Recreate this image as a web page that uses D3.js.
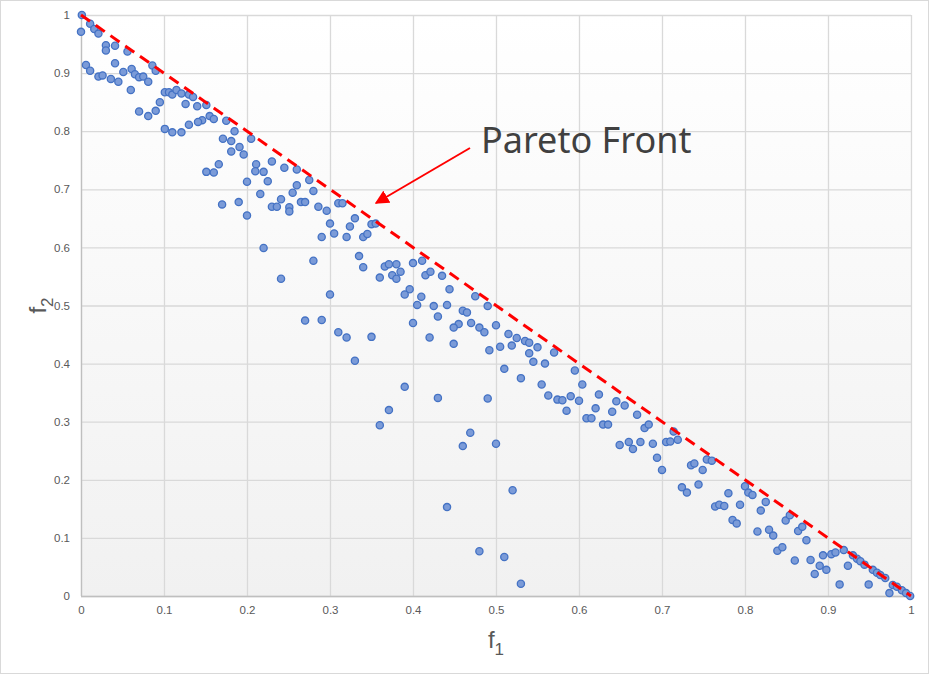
<!DOCTYPE html>
<html><head><meta charset="utf-8">
<script src="https://cdn.jsdelivr.net/npm/d3@7"></script>
<style>body{margin:0;background:#fff;}svg{display:block;}</style>
</head><body>
<svg id="chart" width="929" height="674"></svg>
<script>
// ---- data ----
const f1 = [0.001,0.0,0.011,0.016,0.021,0.030,0.030,0.041,0.056,0.041,0.006,0.011,0.021,0.026,0.036,0.045,0.051,0.061,0.065,0.070,0.075,0.081,0.060,0.086,0.090,0.070,0.081,0.090,0.095,0.101,0.106,0.110,0.115,0.121,0.126,0.130,0.135,0.140,0.151,0.155,0.160,0.146,0.141,0.130,0.121,0.110,0.101,0.175,0.185,0.171,0.181,0.181,0.191,0.196,0.205,0.166,0.211,
0.151,0.160,0.210,0.220,0.230,0.245,0.260,0.225,0.200,0.275,0.260,0.255,0.280,0.216,0.241,0.230,0.236,0.251,0.251,0.265,0.270,0.286,0.296,0.300,0.305,0.290,0.310,0.315,0.320,0.324,0.170,0.190,0.200,0.220,0.280,
0.330,0.350,0.355,0.340,0.345,0.335,0.340,0.241,0.300,0.360,0.366,0.371,0.380,0.375,0.380,0.385,0.400,0.411,0.415,0.421,0.435,0.444,0.396,0.390,0.410,0.405,0.425,0.441,0.430,0.400,0.270,0.290,0.310,0.320,0.350,0.420,
0.475,0.490,0.460,0.465,0.470,0.455,0.449,0.480,0.486,0.500,0.449,0.330,0.492,0.505,0.515,0.525,0.519,0.535,0.540,0.550,0.540,0.545,0.559,0.510,0.530,0.555,0.563,0.390,0.430,0.490,0.371,
0.570,0.574,0.580,0.585,0.590,0.595,0.604,0.600,0.624,0.620,0.609,0.615,0.645,0.655,0.640,0.629,0.635,0.670,0.679,0.684,0.469,0.460,0.500,0.649,0.660,0.665,0.674,
0.689,0.694,0.700,0.705,0.710,0.714,0.719,0.724,0.730,0.735,0.739,0.744,0.749,0.754,0.760,0.764,0.769,0.775,0.780,0.785,0.790,0.794,0.800,0.804,0.809,0.825,0.819,0.815,0.829,
0.834,0.839,0.845,0.849,0.854,0.860,0.864,0.869,0.874,0.879,0.884,0.890,0.894,0.898,0.904,0.909,0.914,0.919,0.924,0.930,0.935,0.939,0.944,0.949,0.954,0.959,0.963,0.969,0.974,0.978,0.983,0.989,0.994,0.999,
0.360,0.520,0.441,0.480,0.510,0.530];
const f2 = [1.0,0.971,0.985,0.976,0.968,0.948,0.939,0.947,0.937,0.917,0.914,0.904,0.894,0.896,0.890,0.885,0.902,0.907,0.898,0.893,0.894,0.885,0.871,0.913,0.904,0.834,0.826,0.835,0.850,0.867,0.867,0.863,0.871,0.865,0.847,0.863,0.859,0.843,0.845,0.826,0.821,0.819,0.816,0.811,0.798,0.798,0.804,0.818,0.800,0.787,0.783,0.765,0.773,0.760,0.787,0.743,0.743,
0.730,0.729,0.731,0.730,0.748,0.737,0.734,0.714,0.713,0.716,0.707,0.694,0.697,0.692,0.683,0.670,0.670,0.669,0.662,0.678,0.678,0.670,0.663,0.641,0.624,0.618,0.676,0.676,0.618,0.636,0.674,0.678,0.655,0.599,0.577,
0.650,0.640,0.641,0.618,0.623,0.585,0.566,0.546,0.519,0.548,0.567,0.571,0.571,0.552,0.546,0.558,0.573,0.577,0.552,0.558,0.551,0.528,0.528,0.519,0.515,0.501,0.499,0.501,0.481,0.470,0.474,0.475,0.454,0.445,0.446,0.445,
0.516,0.499,0.491,0.488,0.470,0.468,0.462,0.462,0.454,0.466,0.434,0.405,0.423,0.429,0.451,0.444,0.431,0.439,0.436,0.428,0.418,0.403,0.400,0.391,0.375,0.364,0.345,0.360,0.341,0.340,0.320,
0.419,0.338,0.337,0.319,0.344,0.388,0.364,0.336,0.347,0.323,0.306,0.306,0.335,0.328,0.317,0.295,0.295,0.312,0.289,0.295,0.281,0.258,0.262,0.260,0.265,0.253,0.265,
0.262,0.238,0.217,0.265,0.266,0.283,0.269,0.187,0.178,0.225,0.228,0.192,0.217,0.235,0.233,0.154,0.157,0.155,0.177,0.131,0.125,0.157,0.189,0.178,0.174,0.162,0.147,0.111,0.114,
0.104,0.078,0.084,0.130,0.139,0.061,0.112,0.119,0.096,0.062,0.038,0.052,0.070,0.045,0.072,0.075,0.020,0.079,0.052,0.070,0.064,0.060,0.054,0.020,0.045,0.040,0.036,0.031,0.005,0.019,0.016,0.010,0.005,0.0,
0.294,0.182,0.153,0.077,0.067,0.021];
const frontF1 = [0, 1];
const frontF2 = [1, 0];
const xTicks = [0,0.1,0.2,0.3,0.4,0.5,0.6,0.7,0.8,0.9,1];
const yTicks = [0,0.1,0.2,0.3,0.4,0.5,0.6,0.7,0.8,0.9,1];
const annotationText = "Pareto Front";

// ---- layout ----
const svg = d3.select("#chart");
const W = 929, H = 674;
const L = 81, R = 911, T = 15, B = 596;
const x = d3.scaleLinear().domain([0,1]).range([L,R]);
const y = d3.scaleLinear().domain([0,1]).range([B,T]);

const defs = svg.append("defs");
const grad = defs.append("linearGradient").attr("id","bg").attr("x1",0).attr("y1",0).attr("x2",0).attr("y2",1);
grad.append("stop").attr("offset","0%").attr("stop-color","#ffffff");
grad.append("stop").attr("offset","100%").attr("stop-color","#f1f1f1");
defs.append("marker").attr("id","arrow").attr("viewBox","0 0 10 10").attr("refX",9).attr("refY",5)
  .attr("markerWidth",7).attr("markerHeight",7).attr("markerUnits","strokeWidth").attr("orient","auto")
  .append("path").attr("d","M0,0 L10,5 L0,10 z").attr("fill","#ff0000");

// chart border
svg.append("rect").attr("x",0.5).attr("y",0.5).attr("width",W-1).attr("height",H-1)
  .attr("fill","#fff").attr("stroke","#d9d9d9");
// plot background
svg.append("rect").attr("x",L).attr("y",T).attr("width",R-L).attr("height",B-T).attr("fill","url(#bg)");

// gridlines
svg.append("g").selectAll("line").data(xTicks).join("line")
  .attr("x1",d=>x(d)+0.5).attr("x2",d=>x(d)+0.5).attr("y1",T).attr("y2",B)
  .attr("stroke","#d9d9d9").attr("stroke-width",1.3);
svg.append("g").selectAll("line").data(yTicks).join("line")
  .attr("x1",L).attr("x2",R).attr("y1",d=>y(d)+0.5).attr("y2",d=>y(d)+0.5)
  .attr("stroke","#d9d9d9").attr("stroke-width",1.3);

// axes
const xAxis = d3.axisBottom(x).tickValues(xTicks).tickSize(0).tickPadding(10).tickFormat(d3.format("~g"));
const yAxis = d3.axisLeft(y).tickValues(yTicks).tickSize(0).tickPadding(11).tickFormat(d3.format("~g"));
const gx = svg.append("g").attr("transform",`translate(0,${B})`).call(xAxis);
const gy = svg.append("g").attr("transform",`translate(${L},0)`).call(yAxis);
[gx,gy].forEach(g=>{
  g.select(".domain").remove();
  g.selectAll("text").attr("fill","#595959").attr("font-family","Liberation Sans, Arial, sans-serif").attr("font-size",11.5);
});
svg.append("line").attr("x1",L+0.5).attr("x2",L+0.5).attr("y1",T).attr("y2",B).attr("stroke","#bfbfbf").attr("stroke-width",1.3);
svg.append("line").attr("x1",L).attr("x2",R).attr("y1",B+0.5).attr("y2",B+0.5).attr("stroke","#bfbfbf").attr("stroke-width",1.3);

// axis titles
const xt = svg.append("text").attr("x",x(0.5)).attr("y",648).attr("text-anchor","middle")
  .attr("fill","#595959").attr("font-family","Liberation Sans, Arial, sans-serif").attr("font-size",24);
xt.append("tspan").text("f");
xt.append("tspan").attr("font-size",17).attr("dy",7).text("1");
const yt = svg.append("text").attr("transform",`translate(46,${y(0.5)}) rotate(-90)`).attr("text-anchor","middle")
  .attr("fill","#595959").attr("font-family","Liberation Sans, Arial, sans-serif").attr("font-size",24);
yt.append("tspan").text("f");
yt.append("tspan").attr("font-size",17).attr("dy",7).text("2");

// points
const pts = f1.map((v,i)=>({a:v,b:f2[i]}));
svg.append("g").selectAll("circle").data(pts).join("circle")
  .attr("cx",d=>x(d.a)).attr("cy",d=>y(d.b)).attr("r",3.6)
  .attr("fill","#7b9bd8").attr("stroke","#4472c4").attr("stroke-width",1.3);

// pareto front dashed line
svg.append("path").datum(frontF1.map((v,i)=>[v,frontF2[i]]))
  .attr("d",d3.line().x(d=>x(d[0])).y(d=>y(d[1])))
  .attr("fill","none").attr("stroke","#ff0000").attr("stroke-width",3).attr("stroke-dasharray","11,7");

// annotation
svg.append("line").attr("x1",470).attr("y1",148).attr("x2",376).attr("y2",203)
  .attr("stroke","#ff0000").attr("stroke-width",2).attr("marker-end","url(#arrow)");
svg.append("text").attr("x",481).attr("y",153).attr("fill","#404040")
  .attr("font-family","Noto Sans, Open Sans, sans-serif").attr("font-size",36).text(annotationText);
</script>
</body></html>
